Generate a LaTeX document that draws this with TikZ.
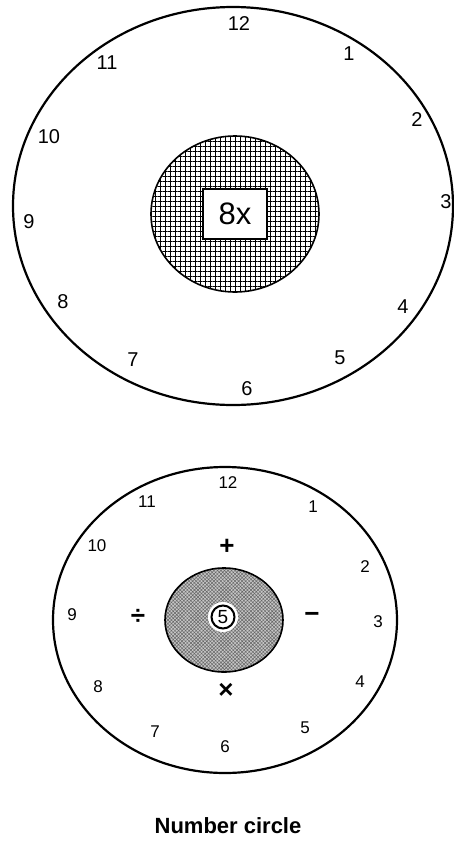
\documentclass[tikz,border=0pt]{standalone}
\usepackage{fontspec}
\setmainfont{Liberation Sans}
\usetikzlibrary{patterns.meta}

\begin{document}
\begin{tikzpicture}[x=1pt, y=-1pt,
    dial/.style={line width=2.2pt},
    hub/.style={line width=1.6pt},
    hour/.style={font=\fontsize{#1}{#1}\selectfont, inner sep=0pt},
    op/.style={font=\fontsize{26}{26}\selectfont\bfseries, inner sep=0pt}
]
    \useasboundingbox (0,0) rectangle (454,841);

    % upper circle
    \draw[dial] (233,206) ellipse [x radius=220, y radius=199];
    \draw[hub, preaction={fill=white},
          pattern={Hatch[angle=0, distance=5pt, line width=0.8pt]}]
        (235,214) ellipse [x radius=84, y radius=78];
    \node[draw, line width=1.6pt, fill=white, minimum width=64pt,
          minimum height=50pt, font=\fontsize{31}{31}\selectfont] (factor) at (235,214) {8x};
    \foreach \h/\px/\py in {12/239/24, 1/349/54, 2/417/120, 3/446/202,
                            4/403/307, 5/340/358, 6/247/389, 7/133/360,
                            8/63/302, 9/29/222, 10/49/137, 11/107/63}
        \node[hour=20] (t\h) at (\px,\py) {\h};

    % lower circle
    \draw[dial] (225,620) ellipse [x radius=172, y radius=153];
    \draw[hub, preaction={fill=gray!45},
          pattern={Hatch[angle=45, distance=2.5pt, line width=0.5pt]},
          pattern color=gray!80!black]
        (224,620) ellipse [x radius=59, y radius=52];
    \fill[white] (223,617) circle [radius=15];
    \node[circle, draw, line width=2pt, minimum size=23pt, inner sep=0pt,
          font=\fontsize{19}{19}\selectfont] (start) at (223,617) {5};
    \foreach \h/\px/\py in {12/228/483, 1/313/507, 2/365/567, 3/378/622,
                            4/360/682, 5/305/728, 6/225/747, 7/155/732,
                            8/98/687, 9/72/615, 10/97/546, 11/147/502}
        \node[hour=17] (b\h) at (\px,\py) {\h};

    \node[op] (plus)  at (227,547) {+};
    \node[op] (minus) at (312,617) {−};
    \node[op] (times) at (226,691) {×};
    \node[op] (divide) at (138,617) {÷};

    \node[inner sep=0pt, font=\fontsize{22}{24}\selectfont\bfseries] (caption) at (228,826) {Number circle};
\end{tikzpicture}
\end{document}
